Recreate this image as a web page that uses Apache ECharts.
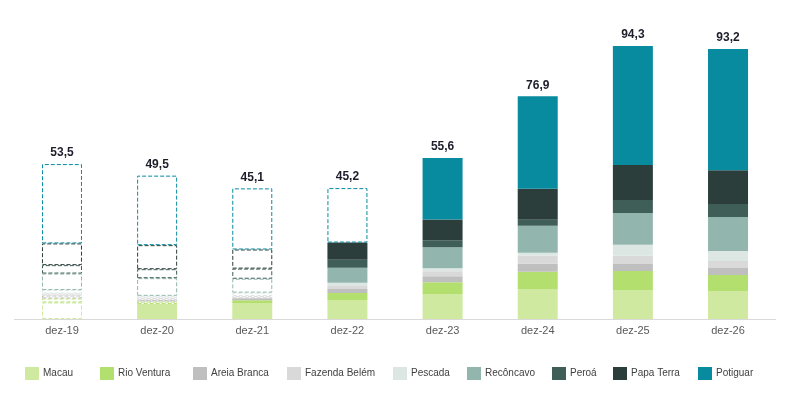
<!DOCTYPE html>
<html>
<head>
<meta charset="utf-8">
<script src="https://cdn.jsdelivr.net/npm/echarts@6/dist/echarts.min.js"></script>
<style>
html,body{margin:0;padding:0;background:#fff;}
#c{width:791px;height:394px;}
</style>
</head>
<body>
<div id="c"></div>
<script>
const categories = ['dez-19','dez-20','dez-21','dez-22','dez-23','dez-24','dez-25','dez-26'];
const totals = [53.5, 49.5, 45.1, 45.2, 55.6, 76.9, 94.3, 93.2];

const macau      = [5.7, 5.2, 5.5, 6.6, 8.6, 10.4, 10.0, 9.7];
const rioVentura = [1.4, 0.8, 1.0, 2.4, 4.1, 5.9, 6.6, 5.5];
const areiaBranca= [1.0, 0.6, 0.7, 1.4, 2.1, 2.8, 2.4, 2.4];
const fazendaBelem=[0.7, 0.7, 0.7, 1.0, 1.7, 2.8, 2.8, 2.4];
const pescada    = [1.2, 0.7, 1.2, 1.1, 1.0, 1.0, 3.8, 3.5];
const reconcavo  = [5.7, 6.1, 4.8, 5.2, 7.3, 9.3, 11.0, 11.7];
const peroa      = [2.9, 3.1, 3.5, 2.8, 2.4, 2.1, 4.5, 4.5];
const papaTerra  = [7.5, 8.3, 6.6, 5.9, 7.2, 10.7, 12.1, 11.7];
const potiguar   = [27.4, 24.0, 21.1, 18.8, 21.2, 31.9, 41.1, 41.8];

// index of first category where the field is shown as realised (filled) rather than dashed
const seriesNames = ['Macau','Rio Ventura','Areia Branca','Fazenda Belém','Pescada','Recôncavo','Peroá','Papa Terra','Potiguar'];
const seriesData  = [macau, rioVentura, areiaBranca, fazendaBelem, pescada, reconcavo, peroa, papaTerra, potiguar];
const firstFilled = [1, 2, 2, 3, 3, 3, 3, 3, 4];
const colors = ['#cfeaa0','#b3df6e','#bfbfbf','#d9d9d9','#dce7e4','#92b6ae','#3e5e57','#2b3e3b','#088b9f'];

const legendLefts = [25, 100, 193, 287, 393, 467, 552, 613, 698];

const series = seriesNames.map((name, s) => ({
  name,
  type: 'bar',
  stack: 'total',
  barWidth: 40,
  itemStyle: { color: colors[s] },
  data: seriesData[s].map((v, i) => i >= firstFilled[s] ? { value: v } : {
    value: v,
    itemStyle: { color: '#ffffff', borderColor: colors[s], borderWidth: 1, borderType: [4, 2] }
  }),
  label: s === seriesNames.length - 1 ? {
    show: true, position: 'top', distance: 5,
    fontFamily: 'Liberation Sans, Arial, sans-serif', fontWeight: 'bold', fontSize: 12, color: '#1d1d2b',
    formatter: p => totals[p.dataIndex].toFixed(1).replace('.', ',')
  } : { show: false },
  emphasis: { disabled: true },
  animation: false
}));

const legends = seriesNames.map((name, s) => ({
  data: [name],
  left: legendLefts[s],
  top: 367,
  itemWidth: 14,
  itemHeight: 13,
  itemGap: 4,
  icon: 'rect',
  padding: 0,
  textStyle: { fontFamily: 'Liberation Sans, Arial, sans-serif', fontSize: 10, color: '#404040', padding: [0,0,0,-1] },
  selectedMode: false
}));

const chart = echarts.init(document.getElementById('c'), null, { renderer: 'canvas' });
chart.setOption({
  backgroundColor: '#ffffff',
  animation: false,
  legend: legends,
  grid: { left: 14.4, right: 15.4, top: 29.4, bottom: 75, containLabel: false },
  xAxis: {
    type: 'category',
    data: categories,
    axisLine: { lineStyle: { color: '#d9d9d9', width: 1 } },
    axisTick: { show: false },
    axisLabel: { margin: 6, fontFamily: 'Liberation Sans, Arial, sans-serif', fontSize: 11, color: '#595959' }
  },
  yAxis: {
    type: 'value', min: 0, max: 100,
    show: false,
    splitLine: { show: false }
  },
  series
});
</script>
</body>
</html>
